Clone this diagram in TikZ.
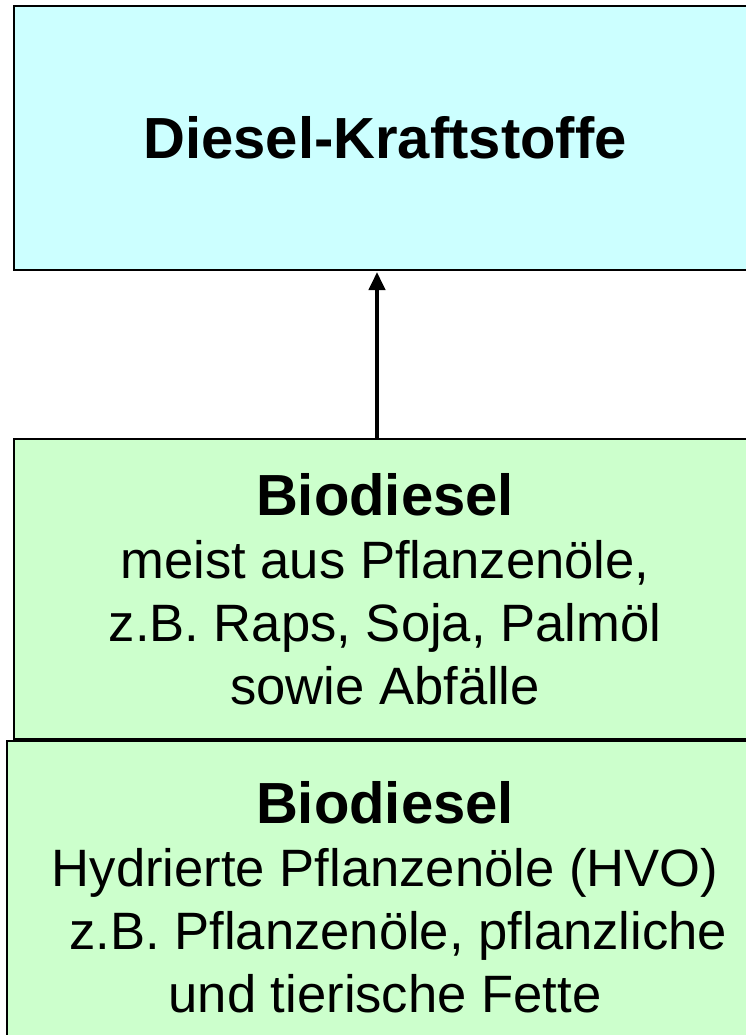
\documentclass[tikz,border=0pt]{standalone}
\usepackage{fontspec}
\setmainfont{Liberation Sans}
\usetikzlibrary{arrows.meta, positioning}
\definecolor{kraftcyan}{RGB}{204,255,255}
\definecolor{biogreen}{RGB}{204,255,204}

\begin{document}
\begin{tikzpicture}[
        x = 1pt, y = 1pt,
        > = {Triangle[width=16pt,length=18pt]},
  box/.style = {draw, line width=2pt, minimum width=742pt,
                align=center, inner sep=0pt,
                font=\fontsize{52.6}{63}\selectfont},
  flow/.style = {line width=4pt, ->, shorten >=1pt}
                        ]
\useasboundingbox (0,0) rectangle (746,-1035);
% boxes
    \node[box, fill=kraftcyan, minimum height=264pt] (kraftstoffe) at (385,-138)
        {\bfseries\fontsize{58}{63}\selectfont Diesel-Kraftstoffe};
    \node[box, fill=biogreen, minimum height=300pt] (biodiesel) at (385,-589)
        {{\bfseries\fontsize{58}{63}\selectfont Biodiesel}\\
         meist aus Pflanzenöle,\\
         z.B. Raps, Soja, Palmöl\\
         sowie Abfälle};
    \node[box, fill=biogreen, minimum width=756pt, minimum height=312pt,
          below=0pt of biodiesel.south west, anchor=north west, xshift=-7pt] (hvo)
        {{\bfseries\fontsize{58}{63}\selectfont Biodiesel}\\
         Hydrierte Pflanzenöle (HVO)\\
         \hspace*{0.5em}z.B. Pflanzenöle, pflanzliche\\
         und tierische Fette};
% arrow
    \draw[flow] ([xshift=-8pt]biodiesel.north) -- ([xshift=-8pt]kraftstoffe.south);
\end{tikzpicture}
\end{document}
